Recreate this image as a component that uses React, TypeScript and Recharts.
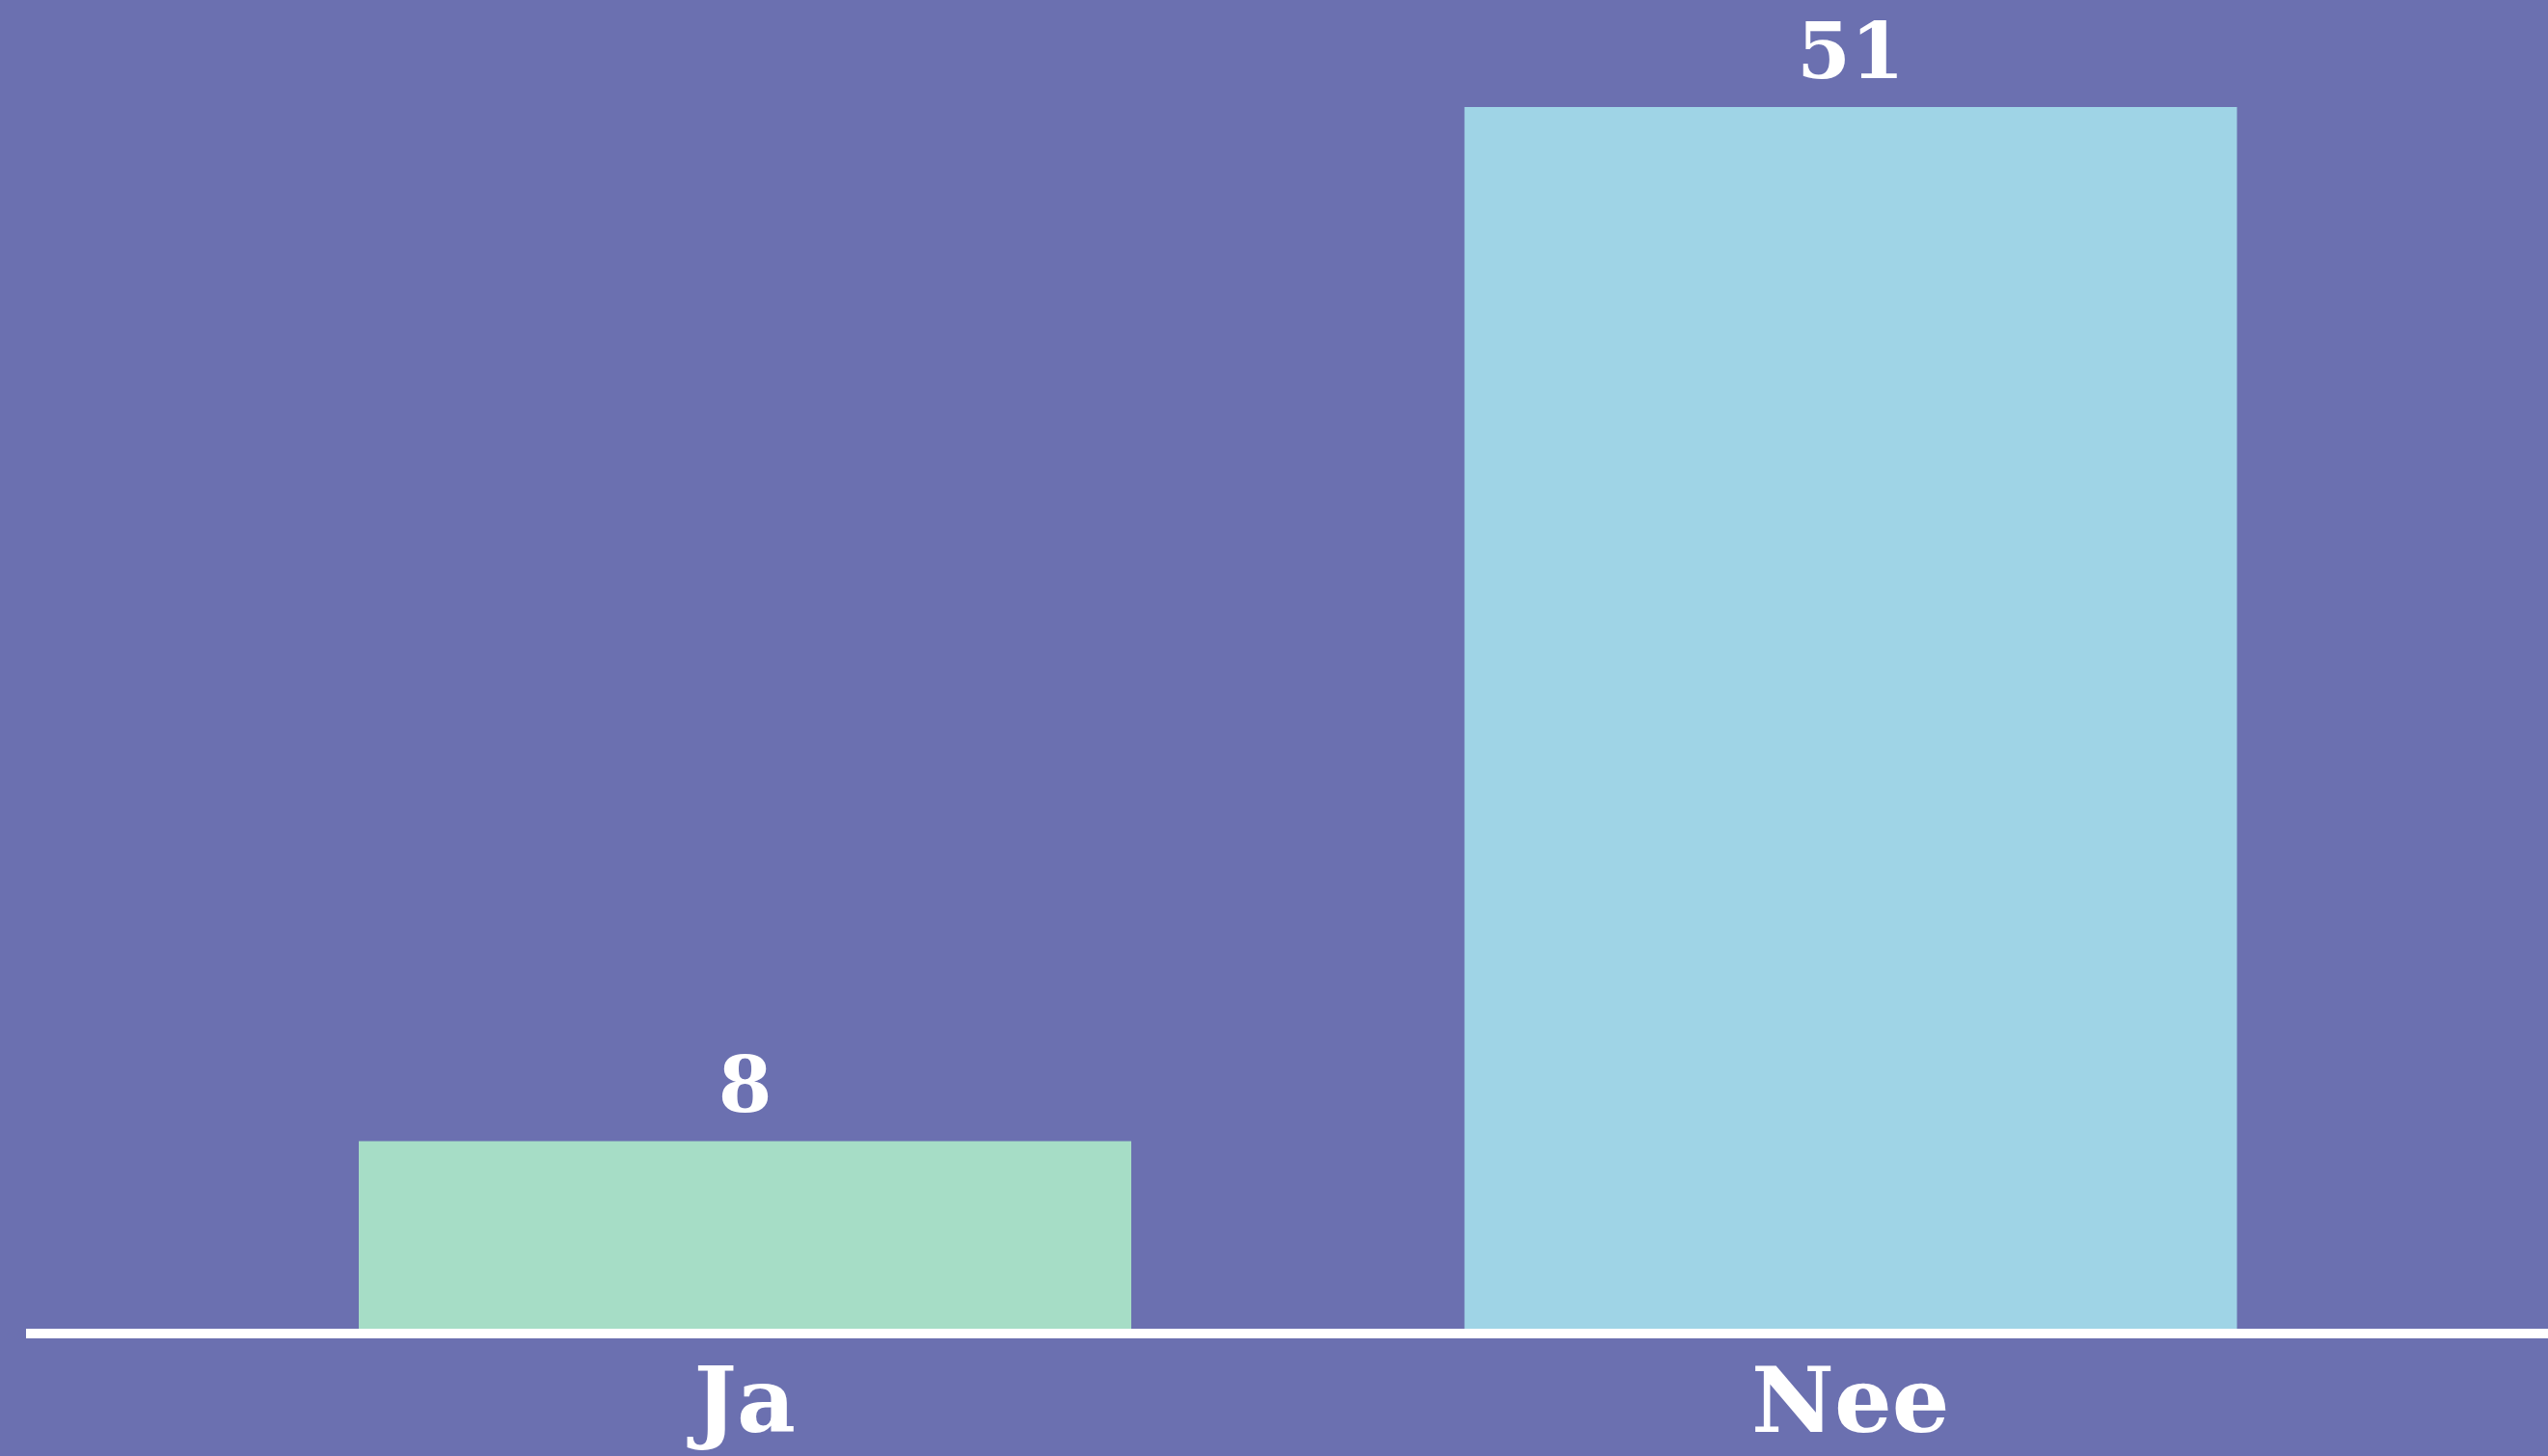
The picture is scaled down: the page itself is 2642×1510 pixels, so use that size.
import React from "react";
import { Bar, BarChart, Cell, LabelList, XAxis, YAxis } from "recharts";

const categories = ["Ja", "Nee"];
const counts = [8, 51];
const barColors = ["#a6ddc6", "#9fd4e6"];

const data = categories.map((name, i) => ({ name, count: counts[i] }));

const FONT = "'DejaVu Serif', serif";

const App = () => {
  return (
    <div
      style={{
        position: "fixed",
        left: 0,
        top: 0,
        width: 2642,
        height: 1510,
        background: "#6b70b0",
      }}
    >
      <BarChart
        width={2642}
        height={1510}
        data={data}
        margin={{ top: 111, right: 0, bottom: 0, left: 27 }}
        barCategoryGap={173}
      >
        <YAxis hide domain={[0, "dataMax"]} />
        <XAxis
          dataKey="name"
          height={127}
          padding={{ left: 172, right: 150 }}
          axisLine={{ stroke: "#ffffff", strokeWidth: 10 }}
          tickLine={false}
          tickSize={0}
          tickMargin={35}
          tick={{ fill: "#ffffff", fontSize: 94, fontWeight: 700, fontFamily: FONT }}
        />
        <Bar dataKey="count" isAnimationActive={false}>
          {data.map((d, i) => (
            <Cell key={d.name} fill={barColors[i]} />
          ))}
          <LabelList
            dataKey="count"
            position="top"
            offset={30}
            fill="#ffffff"
            style={{ fontSize: 80, fontWeight: 700, fontFamily: FONT }}
          />
        </Bar>
      </BarChart>
    </div>
  );
};

export default App;
